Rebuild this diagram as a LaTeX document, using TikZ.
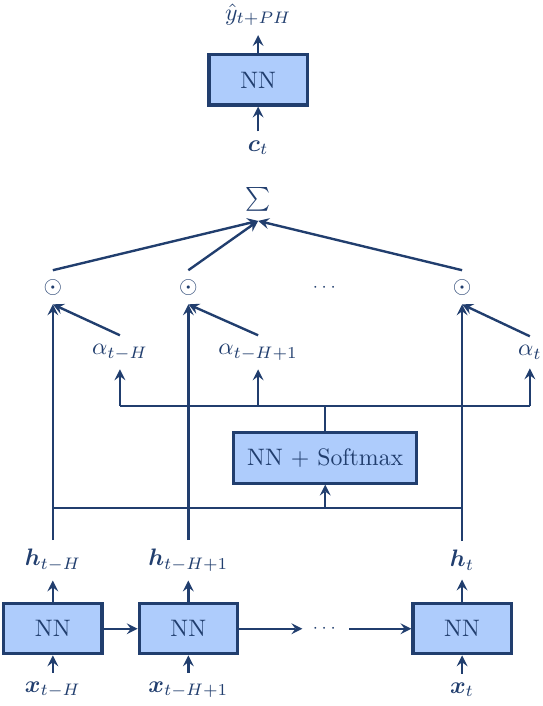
\documentclass[tikz,border=0pt]{standalone}
\usepackage{amsmath}
\usepackage{amssymb}
\usetikzlibrary{arrows}
\definecolor{netblue}{RGB}{33,62,110}
\definecolor{netfill}{RGB}{174,204,252}
\tikzset{block/.style={draw=netblue,fill=netfill,line width=1.3pt,
                       text=netblue,minimum width=1.45cm,minimum height=0.74cm}}
\tikzset{gap/.style={minimum width=0.66cm,inner sep=0pt,font=\scriptsize}}

\begin{document}
\begin{tikzpicture}[->,>=stealth,line width=1pt,draw=netblue,text=netblue]
    \useasboundingbox (0,0) rectangle (8.0,10.42);

    % encoder over time
    \foreach \i/\px/\s in {1/0.78/t-H,2/2.78/t-H+1,3/6.82/t}{%
          \node[block] (nn\i) at (\px,1.14) {NN};
          \node (x\i) at (\px,0.24) {$\boldsymbol{x}_{\s}$};
          \node (h\i) at (\px,2.15) {$\boldsymbol{h}_{\s}$};
          \node (o\i) at (\px,6.18) {$\odot$};
          \draw[->] (x\i) -- (nn\i);
          \draw[->] (nn\i) -- (h\i);
          \draw[->] (h\i) -- (o\i.south);
		}
    \node[gap] (dots) at (4.81,1.14) {$\cdots$};
    \node[gap] (odots) at (4.81,6.18) {$\cdots$};
    \draw[->] (nn1) -- (nn2);
    \draw[->] (nn2) -- (dots);
    \draw[->] (dots) -- (nn3);

    % attention weights
    \node[block,minimum width=2.7cm] (soft) at (4.80,3.66) {NN + Softmax};
    \coordinate (hjoin) at (4.80,2.92);
    \coordinate (asplit) at (4.80,4.43);
    \draw[-] (h1 |- hjoin) -- (h3 |- hjoin);
    \draw[->] (hjoin) -- (soft);
    \draw[-] (soft) -- (asplit);
    \foreach \i/\px/\s in {1/1.77/t-H,2/3.81/t-H+1,3/7.82/t}{%
          \node (a\i) at (\px,5.22) {$\alpha_{\s}$};
          \draw[->] (asplit -| a\i) -- (a\i);
          \draw[->] (a\i.north) -- (o\i.south);
		}
    \draw[-] (asplit -| a1) -- (asplit -| a3);

    % context and output
    \node (sum) at (3.81,7.47) {$\sum$};
    \foreach \i in {1,2,3}
          \draw[->] (o\i.north) -- (sum.south);
    \node (ctx) at (3.81,8.24) {$\boldsymbol{c}_t$};
    \node[block] (nnout) at (3.81,9.24) {NN};
    \node (yhat) at (3.81,10.20) {$\hat{y}_{t+PH}$};
    \draw[->] (ctx) -- (nnout);
    \draw[->] (nnout) -- (yhat);
\end{tikzpicture}
\end{document}
